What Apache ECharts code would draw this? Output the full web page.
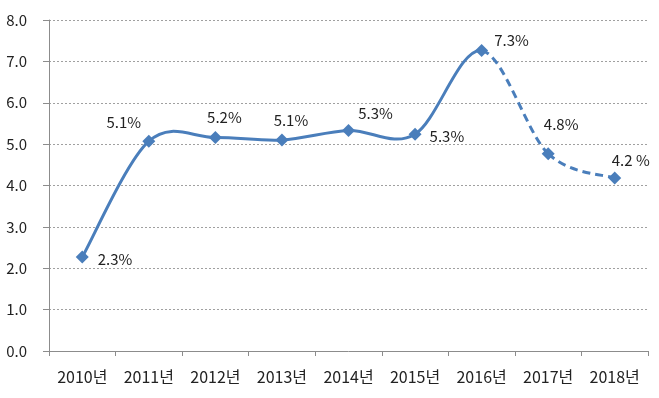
<!DOCTYPE html>
<html><head><meta charset="utf-8">
<script src="https://cdn.jsdelivr.net/npm/echarts@6/dist/echarts.min.js"></script>
<style>html,body{margin:0;padding:0;background:#fff}#c{width:659px;height:398px}</style>
</head><body><div id="c"></div>
<script>
var categories = ['2010년','2011년','2012년','2013년','2014년','2015년','2016년','2017년','2018년'];
var values = [2.27, 5.07, 5.16, 5.1, 5.33, 5.24, 7.26, 4.77, 4.18];
var labels = ['2.3%','5.1%','5.2%','5.1%','5.3%','5.3%','7.3%','4.8%','4.2 %'];
var solidEnd = 6; // index of 2016: solid line up to here, dashed afterwards

var font = 'Noto Sans CJK KR';
var color = '#4a7ebb';
var labelPlace = [
  {position:'right', offset:[4,2]},
  {position:'top', offset:[-25,0]},
  {position:'top', offset:[9,-1]},
  {position:'top', offset:[9,-1]},
  {position:'top', offset:[27,2]},
  {position:'right', offset:[3,2]},
  {position:'top', offset:[30,9]},
  {position:'top', offset:[13,-10]},
  {position:'top', offset:[16,1]}
];

var n = values.length;
var pts = categories.map(function(c,i){ return [i, values[i]]; });
var markerData = categories.map(function(c,i){
  return {value:[i, values[i]], label:{show:true, formatter:labels[i], position:labelPlace[i].position, offset:labelPlace[i].offset, distance:5}};
});

function renderSeg(params, api){
  var i = params.dataIndex;
  if (i >= n - 1) return null;
  var p = function(k){ k = Math.max(0, Math.min(n-1, k)); return api.coord(pts[k]); };
  var P0 = p(i-1), P1 = p(i), P2 = p(i+1), P3 = p(i+2);
  var t = 1/6;
  return {
    type:'bezierCurve',
    shape:{
      x1:P1[0], y1:P1[1], x2:P2[0], y2:P2[1],
      cpx1:P1[0] + (P2[0]-P0[0])*t, cpy1:P1[1] + (P2[1]-P0[1])*t,
      cpx2:P2[0] - (P3[0]-P1[0])*t, cpy2:P2[1] - (P3[1]-P1[1])*t
    },
    style:{stroke:color, lineWidth:3, fill:null, lineDash: i >= solidEnd ? [8,5] : null, lineCap:'butt'}
  };
}

var chart = echarts.init(document.getElementById('c'));
chart.setOption({
  animation:false,
  grid:{left:49,right:11,top:20,bottom:47},
  xAxis:{type:'category',data:categories,boundaryGap:true,
    axisLine:{lineStyle:{color:'#8c8c8c',width:1}},
    axisTick:{show:true,length:5,lineStyle:{color:'#8c8c8c'}},
    axisLabel:{color:'#222',fontFamily:font,fontSize:16,margin:18}},
  yAxis:{type:'value',min:0,max:8,interval:1,
    axisLine:{show:true,lineStyle:{color:'#8c8c8c'}},
    axisTick:{show:true,length:6,lineStyle:{color:'#8c8c8c'}},
    axisLabel:{color:'#222',fontFamily:font,fontSize:15,margin:22,verticalAlign:'middle',padding:[0,0,4,0],formatter:function(v){return v.toFixed(1);}},
    splitLine:{show:true,lineStyle:{color:'#a0a0a0',type:[2,2],width:1}}},
  series:[
    {type:'custom',data:pts,renderItem:renderSeg,clip:false,z:2,silent:true,encode:{x:0,y:1}},
    {type:'scatter',data:markerData,symbol:'diamond',symbolSize:13,itemStyle:{color:color,opacity:1},
     label:{color:'#222',fontFamily:font,fontSize:15,opacity:1},z:3}
  ]
});
</script></body></html>
